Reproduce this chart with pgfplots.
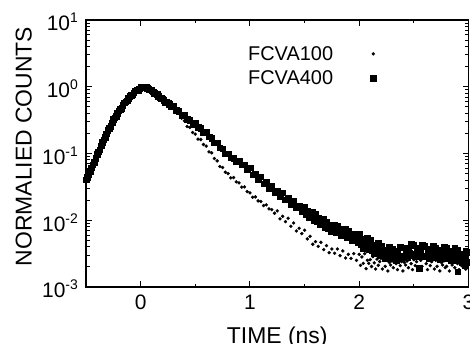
\documentclass[border=0pt]{standalone}
\usepackage{fontspec}
\setmainfont{Liberation Sans}
\usepackage{pgfplots}
\pgfplotsset{compat=1.18}
\newcommand\ep[1]{10\raisebox{8bp}{\fontsize{14}{14}\selectfont #1}}
\begin{document}
\begin{tikzpicture}
\begin{axis}[
  name=ax, scale only axis, width=382.5bp, height=267bp,
  xmin=-0.5, xmax=3, ymode=log, ymin=1e-3, ymax=10,
  xtick={0,1,2,3}, xticklabels={0,1,2,3}, minor x tick num=1,
  ytick={1e-3,1e-2,1e-1,1,10},
  yticklabels={\ep{-3},\ep{-2},\ep{-1},\ep{0},\ep{1}},
  tick style={black, line width=1bp},
  major tick length=6bp, minor tick length=3.5bp,
  axis line style={line width=1.6bp},
  tick label style={font=\fontsize{21}{25}\selectfont},
  xticklabel style={inner sep=0pt, yshift=-8bp},
  yticklabel style={inner sep=0pt, xshift=-8bp, yshift=-2bp},
  xlabel={TIME (ns)}, ylabel={NORMALIED COUNTS},
  xlabel style={at={([yshift=-40bp]rel axis cs:0.5,0)}, anchor=north, inner sep=0pt, font=\fontsize{23}{27}\selectfont},
  ylabel style={at={([xshift=-54.3bp]rel axis cs:0,0.526)}, anchor=base, inner sep=0pt, font=\fontsize{23}{27}\selectfont},
  legend plot pos=right, legend cell align=left,
  legend style={draw=none, fill=none, at={([yshift=-24bp]rel axis cs:0.4235,1)}, anchor=north west,
    inner sep=0pt, font=\fontsize{20}{24}\selectfont, row sep=5bp, nodes={inner xsep=0pt, inner ysep=2bp}},
  legend image code/.code={\path (0bp,0bp); \draw[#1] plot coordinates {(40bp,0bp)};},
]
% FCVA100
\addplot[only marks, mark=*, mark size=1.5bp, black] coordinates {
(-0.4875,0.0442)(-0.4625,0.0543)(-0.4375,0.0676)(-0.4125,0.0851)(-0.3875,0.1059)(-0.3625,0.1303)(-0.3375,0.1603)(-0.3125,0.1972)
(-0.2875,0.240)(-0.2625,0.288)(-0.2375,0.343)(-0.2125,0.398)(-0.1875,0.457)(-0.1625,0.525)(-0.1375,0.596)(-0.1125,0.668)
(-0.0875,0.741)(-0.0625,0.813)(-0.0375,0.881)(-0.0125,0.933)(0.0125,0.972)(0.0375,0.983)(0.0625,0.955)(0.0875,0.902)
(0.1125,0.841)(0.1375,0.785)(0.1625,0.729)(0.1875,0.672)(0.2125,0.624)(0.2375,0.582)(0.2625,0.543)(0.2875,0.507)
(0.300,0.490)(0.325,0.417)(0.350,0.417)(0.375,0.339)(0.400,0.309)(0.425,0.254)(0.450,0.2455)(0.475,0.2065)
(0.500,0.195)(0.525,0.164)(0.550,0.162)(0.575,0.1365)(0.600,0.1288)(0.625,0.1059)(0.650,0.1023)(0.675,0.0841)
(0.700,0.0776)(0.725,0.0638)(0.750,0.0617)(0.775,0.0525)(0.800,0.0501)(0.825,0.0432)(0.850,0.0437)(0.875,0.0376)
(0.900,0.0363)(0.925,0.0313)(0.950,0.0316)(0.975,0.0269)(1.000,0.0257)(1.025,0.0221)(1.050,0.0224)(1.075,0.0195)
(1.100,0.0191)(1.125,0.0166)(1.150,0.0170)(1.175,0.0148)(1.200,0.01445)(1.225,0.01274)
(1.250,0.0138)(1.275,0.01047)(1.300,0.01148)(1.325,0.00955)(1.350,0.01072)(1.375,0.00813)(1.400,0.00912)(1.425,0.00692)
(1.450,0.00759)(1.475,0.00631)(1.500,0.00708)(1.525,0.00525)(1.550,0.00575)(1.575,0.00437)(1.600,0.00479)(1.625,0.00407)
(1.650,0.00468)(1.675,0.00363)(1.700,0.00417)(1.725,0.00327)(1.750,0.00372)(1.775,0.00320)(1.800,0.00372)(1.825,0.00295)
(1.850,0.00347)(1.875,0.00272)(1.900,0.00309)(1.925,0.00269)(1.950,0.00316)(1.975,0.00251)
(2.0000,0.00309)(2.0125,0.00211)(2.0250,0.00282)(2.0375,0.00226)(2.0500,0.00316)(2.0625,0.00188)(2.0750,0.00251)(2.0875,0.00226)
(2.1000,0.00257)(2.1125,0.00203)(2.1250,0.00285)(2.1375,0.00230)(2.1500,0.00186)(2.1625,0.00262)(2.1750,0.00211)(2.1875,0.00241)
(2.2000,0.00269)(2.2125,0.00186)(2.2250,0.00251)(2.2375,0.00204)(2.2500,0.00288)(2.2625,0.00174)(2.2750,0.00234)(2.2875,0.00214)
(2.3000,0.00245)(2.3125,0.00195)(2.3250,0.00275)(2.3375,0.00224)(2.3500,0.00182)(2.3625,0.00257)(2.3750,0.00209)(2.3875,0.00240)
(2.4000,0.00174)(2.4125,0.00234)(2.4250,0.00214)(2.4375,0.00245)(2.4500,0.00195)(2.4625,0.00275)(2.4750,0.00224)(2.4875,0.00182)
(2.5000,0.00257)(2.5125,0.00209)(2.5250,0.00240)(2.5375,0.00269)(2.5500,0.00186)(2.5625,0.00251)(2.5750,0.00204)(2.5875,0.00288)
(2.6000,0.00275)(2.6125,0.00224)(2.6250,0.00182)(2.6375,0.00257)(2.6500,0.00209)(2.6625,0.00240)(2.6750,0.00269)(2.6875,0.00186)
(2.7000,0.00251)(2.7125,0.00204)(2.7250,0.00288)(2.7375,0.00174)(2.7500,0.00234)(2.7625,0.00214)(2.7750,0.00245)(2.7875,0.00195)
(2.8000,0.00204)(2.8125,0.00288)(2.8250,0.00174)(2.8375,0.00234)(2.8500,0.00214)(2.8625,0.00245)(2.8750,0.00195)(2.8875,0.00275)
(2.9000,0.00224)(2.9125,0.00182)(2.9250,0.00257)(2.9375,0.00209)(2.9500,0.00240)(2.9625,0.00269)(2.9750,0.00186)(2.9875,0.00251)
(3.0000,0.00230)
};
\addlegendentry{FCVA100}
% FCVA400
\addplot[only marks, mark=square*, mark size=2.8bp, black] coordinates {
(-0.500,0.0407)(-0.475,0.0479)(-0.450,0.0617)(-0.425,0.0741)(-0.400,0.0977)(-0.375,0.1148)(-0.350,0.148)(-0.325,0.174)
(-0.300,0.224)(-0.275,0.257)(-0.250,0.324)(-0.225,0.363)(-0.200,0.437)(-0.175,0.479)(-0.150,0.575)(-0.125,0.617)
(-0.100,0.724)(-0.075,0.759)(-0.050,0.871)(-0.025,0.891)(0.000,0.977)(0.025,0.966)(0.050,1.000)(0.075,0.912)
(0.100,0.891)(0.125,0.794)(0.150,0.776)(0.175,0.684)(0.200,0.661)(0.225,0.589)(0.250,0.575)(0.275,0.513)
(-0.4875,0.0442)(-0.4625,0.0543)(-0.4375,0.0676)(-0.4125,0.0851)(-0.3875,0.1059)(-0.3625,0.1303)(-0.3375,0.1603)(-0.3125,0.1972)
(-0.2875,0.240)(-0.2625,0.288)(-0.2375,0.343)(-0.2125,0.398)(-0.1875,0.457)(-0.1625,0.525)(-0.1375,0.596)(-0.1125,0.668)
(-0.0875,0.741)(-0.0625,0.813)(-0.0375,0.881)(-0.0125,0.933)(0.0125,0.972)(0.0375,0.983)(0.0625,0.955)(0.0875,0.902)
(0.1125,0.841)(0.1375,0.785)(0.1625,0.729)(0.1875,0.672)(0.2125,0.624)(0.2375,0.582)(0.2625,0.543)(0.2875,0.507)
(0.300,0.513)(0.325,0.447)(0.350,0.432)(0.375,0.372)(0.400,0.380)(0.425,0.327)(0.450,0.316)(0.475,0.275)
(0.500,0.282)(0.525,0.2455)(0.550,0.237)(0.575,0.204)(0.600,0.209)(0.625,0.178)(0.650,0.170)(0.675,0.1445)
(0.700,0.1445)(0.725,0.123)(0.750,0.1175)(0.775,0.100)(0.800,0.100)(0.825,0.0871)(0.850,0.0851)(0.875,0.0750)
(0.900,0.0776)(0.925,0.0684)(0.950,0.0676)(0.975,0.0582)
(1.000,0.0617)(1.025,0.0484)(1.050,0.0501)(1.075,0.0403)(1.100,0.0447)(1.125,0.0355)(1.150,0.0372)(1.175,0.0299)
(1.200,0.0331)(1.225,0.0263)(1.250,0.0275)(1.275,0.0226)(1.300,0.0257)(1.325,0.0204)(1.350,0.0214)(1.375,0.0174)
(1.400,0.0195)(1.425,0.0157)(1.450,0.0166)(1.475,0.01365)
(1.5000,0.01585)(1.5125,0.01245)(1.5250,0.0138)(1.5375,0.01109)(1.5500,0.01318)(1.5625,0.01142)(1.5750,0.01334)(1.5875,0.01006)
(1.6000,0.0123)(1.6125,0.00966)(1.6250,0.01072)(1.6375,0.00861)(1.6500,0.01023)(1.6625,0.00886)(1.6750,0.01035)(1.6875,0.00781)
(1.7000,0.00955)(1.7125,0.00759)(1.7250,0.00851)(1.7375,0.00692)(1.7500,0.00832)(1.7625,0.00729)(1.7750,0.00861)(1.7875,0.00657)
(1.8000,0.00813)(1.8125,0.00649)(1.8250,0.00733)(1.8375,0.00599)(1.8500,0.00724)(1.8625,0.00631)(1.8750,0.00741)(1.8875,0.00562)
(1.9000,0.00692)(1.9125,0.00550)(1.9250,0.00617)(1.9375,0.00501)(1.9500,0.00603)(1.9625,0.00525)(1.9750,0.00617)(1.9875,0.00468)
(2.0000,0.00617)(2.0125,0.00434)(2.0250,0.00519)(2.0375,0.00382)(2.0500,0.00513)(2.0625,0.00417)(2.0750,0.00550)(2.0875,0.00363)
(2.1000,0.00501)(2.1125,0.00355)(2.1250,0.00427)(2.1375,0.00316)(2.1500,0.00427)(2.1625,0.00347)(2.1750,0.00457)(2.1875,0.00302)
(2.2000,0.00417)(2.2125,0.00297)(2.2250,0.00359)(2.2375,0.00268)(2.2500,0.00363)(2.2625,0.00299)(2.2750,0.00398)(2.2875,0.00266)
(2.3000,0.00372)(2.3125,0.00269)(2.3250,0.00331)(2.3375,0.00251)(2.3500,0.00347)(2.3625,0.00292)(2.3750,0.00398)(2.3875,0.00272)
(2.4000,0.00389)(2.4125,0.00287)(2.4250,0.00359)(2.4375,0.00277)(2.4500,0.00389)(2.4625,0.00325)(2.4750,0.00442)(2.4875,0.00300)
(2.5000,0.00427)(2.5125,0.00307)(2.5250,0.00376)(2.5375,0.00284)(2.5500,0.00389)(2.5625,0.00322)(2.5750,0.00432)(2.5875,0.00290)
(2.6000,0.00407)(2.6125,0.00293)(2.6250,0.00359)(2.6375,0.00271)(2.6500,0.00372)(2.6625,0.00307)(2.6750,0.00412)(2.6875,0.00277)
(2.7000,0.00389)(2.7125,0.00282)(2.7250,0.00347)(2.7375,0.00263)(2.7500,0.00363)(2.7625,0.00300)(2.7750,0.00403)(2.7875,0.00271)
(2.8000,0.00380)(2.8125,0.00274)(2.8250,0.00335)(2.8375,0.00253)(2.8500,0.00347)(2.8625,0.00285)(2.8750,0.00380)(2.8875,0.00254)
(2.9000,0.00355)(2.9125,0.00254)(2.9250,0.00309)(2.9375,0.00232)(2.9500,0.00316)(2.9625,0.00262)(2.9750,0.00351)(2.9875,0.00236)
(3.0000,0.00331)(2.55,0.0019)(2.90,0.0017)(2.97,0.0021)
};
\addlegendentry{FCVA400}
\end{axis}
\pgfresetboundingbox
\path ([shift={(-86bp,-56bp)}]ax.south west) rectangle ([shift={(1.5bp,20bp)}]ax.north east);
\end{tikzpicture}
\end{document}
